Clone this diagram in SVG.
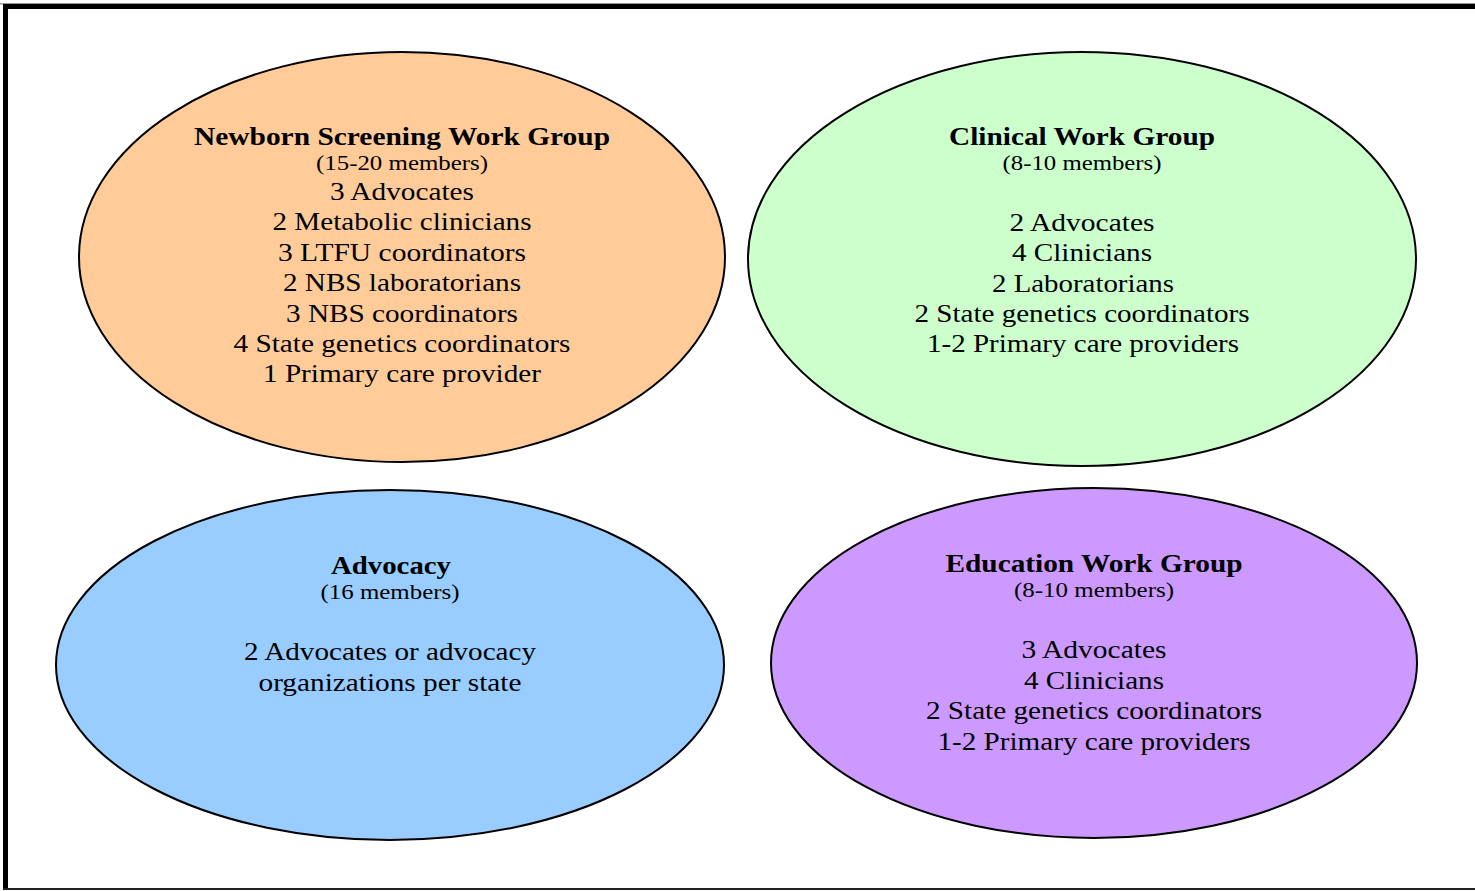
<svg xmlns="http://www.w3.org/2000/svg" width="1475" height="891" viewBox="0 0 1475 891">
<style>
.e{stroke:#000;stroke-width:2}
text{font-family:"Liberation Serif","Times New Roman",serif;fill:#000;text-anchor:middle}
.t{font-weight:bold;font-size:25px}
.s{font-size:21px}
.b{font-size:25px}
</style>
<rect x="0" y="0" width="1475" height="891" fill="#fff"/>
<g id="frame">
<rect x="0" y="3" width="1475" height="1.5" fill="#999"/>
<rect x="3" y="4" width="1472" height="5" fill="#000"/>
<rect x="3" y="4" width="5" height="886" fill="#000"/>
<rect x="3" y="888" width="1472" height="2" fill="#222"/>
</g>
<g id="newborn">
<ellipse class="e" cx="402" cy="257" rx="323" ry="205" fill="#FFCC99"/>
<text class="t" x="402" y="145" textLength="416" lengthAdjust="spacingAndGlyphs">Newborn Screening Work Group</text>
<text class="s" x="402" y="170" textLength="172" lengthAdjust="spacingAndGlyphs">(15-20 members)</text>
<text class="b" x="402" y="200" textLength="144" lengthAdjust="spacingAndGlyphs">3 Advocates</text>
<text class="b" x="402" y="230" textLength="259" lengthAdjust="spacingAndGlyphs">2 Metabolic clinicians</text>
<text class="b" x="402" y="261" textLength="248" lengthAdjust="spacingAndGlyphs">3 LTFU coordinators</text>
<text class="b" x="402" y="291" textLength="238" lengthAdjust="spacingAndGlyphs">2 NBS laboratorians</text>
<text class="b" x="402" y="322" textLength="232" lengthAdjust="spacingAndGlyphs">3 NBS coordinators</text>
<text class="b" x="402" y="352" textLength="337" lengthAdjust="spacingAndGlyphs">4 State genetics coordinators</text>
<text class="b" x="402" y="382" textLength="278" lengthAdjust="spacingAndGlyphs">1 Primary care provider</text>
</g>
<g id="clinical">
<ellipse class="e" cx="1082" cy="259" rx="334" ry="207" fill="#CCFFCC"/>
<text class="t" x="1082" y="145" textLength="266" lengthAdjust="spacingAndGlyphs">Clinical Work Group</text>
<text class="s" x="1082" y="170" textLength="159" lengthAdjust="spacingAndGlyphs">(8-10 members)</text>
<text class="b" x="1082" y="231" textLength="145" lengthAdjust="spacingAndGlyphs">2 Advocates</text>
<text class="b" x="1082" y="261" textLength="140" lengthAdjust="spacingAndGlyphs">4 Clinicians</text>
<text class="b" x="1083" y="292" textLength="182" lengthAdjust="spacingAndGlyphs">2 Laboratorians</text>
<text class="b" x="1082" y="322" textLength="335" lengthAdjust="spacingAndGlyphs">2 State genetics coordinators</text>
<text class="b" x="1083" y="352" textLength="312" lengthAdjust="spacingAndGlyphs">1-2 Primary care providers</text>
</g>
<g id="advocacy">
<ellipse class="e" cx="390" cy="665" rx="334" ry="175" fill="#99CCFF"/>
<text class="t" x="391" y="574" textLength="120" lengthAdjust="spacingAndGlyphs">Advocacy</text>
<text class="s" x="390" y="599" textLength="139" lengthAdjust="spacingAndGlyphs">(16 members)</text>
<text class="b" x="390" y="660" textLength="292" lengthAdjust="spacingAndGlyphs">2 Advocates or advocacy</text>
<text class="b" x="390" y="691" textLength="263" lengthAdjust="spacingAndGlyphs">organizations per state</text>
</g>
<g id="education">
<ellipse class="e" cx="1094" cy="663" rx="323" ry="175" fill="#CC99FF"/>
<text class="t" x="1094" y="572" textLength="297" lengthAdjust="spacingAndGlyphs">Education Work Group</text>
<text class="s" x="1094" y="597" textLength="160" lengthAdjust="spacingAndGlyphs">(8-10 members)</text>
<text class="b" x="1094" y="658" textLength="145" lengthAdjust="spacingAndGlyphs">3 Advocates</text>
<text class="b" x="1094" y="689" textLength="140" lengthAdjust="spacingAndGlyphs">4 Clinicians</text>
<text class="b" x="1094" y="719" textLength="336" lengthAdjust="spacingAndGlyphs">2 State genetics coordinators</text>
<text class="b" x="1094" y="750" textLength="313" lengthAdjust="spacingAndGlyphs">1-2 Primary care providers</text>
</g>
<g id="connectors"></g>
</svg>
